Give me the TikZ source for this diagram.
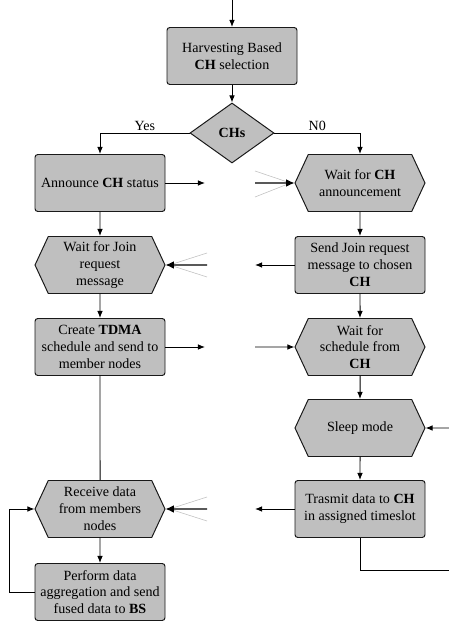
\documentclass[tikz,border=0pt]{standalone}
\usepackage{fontspec}
\setmainfont{Liberation Serif}
\usetikzlibrary{shapes.geometric,shapes.symbols,arrows.meta}

\begin{document}
\begin{tikzpicture}[box/.style={fill=black!25,draw=black!90,rounded corners=2pt,line width=.7pt,minimum width=3.25cm,minimum height=1.425cm,align=center,inner sep=1pt},
    hexa/.style={fill=black!25,draw=black!90,line width=.7pt,signal,signal to=west and east,signal pointer angle=130,minimum width=3.25cm,minimum height=1.425cm,align=center,inner sep=1pt},
    decision/.style={fill=black!25,draw=black!90,line width=.7pt,diamond,minimum width=2.1cm,minimum height=1.5cm,inner sep=0pt},
    flow/.style={draw=black,line width=.7pt,-{Latex[length=5pt,width=4pt]}},
    recv/.style={draw=black,line width=.8pt,-{Latex[length=6pt,width=5.5pt]}},
    fan/.style={draw=black!25,line width=.4pt}]
        \useasboundingbox (0,0) rectangle (11.225,15.55);

        \coordinate (start) at (5.8,15.55);
        \node[box] at (5.8,14.15) (harvest) {Harvesting Based\\\textbf{CH} selection};
        \node[decision] at (5.8,12.225) (chs) {\textbf{CHs}};

        \node[box] at (2.5,10.975) (announce) {Announce \textbf{CH} status};
        \node[hexa] at (9,10.975) (waitch) {Wait for \textbf{CH}\\announcement};

        \node[hexa] at (2.5,8.925) (waitjoin) {Wait for Join\\request\\message};
        \node[box] at (9,8.925) (sendjoin) {Send Join request\\message to chosen\\\textbf{CH}};

        \node[box] at (2.5,6.875) (create) {Create \textbf{TDMA}\\schedule and send to\\member nodes};
        \node[hexa] at (9,6.875) (waitsched) {Wait for\\schedule from\\\textbf{CH}};

        \node[hexa] at (9,4.85) (sleep) {Sleep mode};

        \node[hexa] at (2.5,2.825) (receive) {Receive data\\from members\\nodes};
        \node[box] at (9,2.825) (transmit) {Trasmit data to \textbf{CH}\\in assigned timeslot};

        \node[box] at (2.5,0.75) (perform) {Perform data\\aggregation and send\\fused data to \textbf{BS}};

        % gaps between the two columns
        \coordinate (a1) at (5.125,10.975);
        \coordinate (a2) at (6.375,10.975);
        \coordinate (b1) at (5.175,8.925);
        \coordinate (b2) at (6.375,8.925);
        \coordinate (c1) at (5.125,6.875);
        \coordinate (c2) at (6.375,6.875);
        \coordinate (d1) at (5.175,2.825);
        \coordinate (d2) at (6.375,2.825);
        \coordinate (sleepin) at (11.225,4.85);
        \coordinate (transout) at (11.225,1.3);
        \coordinate (loop) at (0.225,0.75);

        \draw[flow] (start) -- (harvest);
        \draw[flow] (harvest) -- (chs);
        \draw[flow] (chs.west) -| node[pos=.25,above,inner sep=1pt] (yes) {Yes} (announce);
        \draw[flow] (chs.east) -| node[pos=.25,above,inner sep=1pt] (no) {N0} (waitch);

        \draw[flow] (announce) -- (a1);
        \draw[fan] ([yshift=.3cm]a2) -- ([xshift=-1mm]waitch.west);
        \draw[fan] ([yshift=-.35cm]a2) -- ([xshift=-1mm]waitch.west);
        \draw[recv] (a2) -- (waitch);

        \draw[flow] (announce) -- (waitjoin);
        \draw[flow] (waitch) -- (sendjoin);

        \draw[flow] (sendjoin) -- (b2);
        \draw[fan] ([yshift=.3cm]b1) -- ([xshift=1mm]waitjoin.east);
        \draw[fan] ([yshift=-.3cm]b1) -- ([xshift=1mm]waitjoin.east);
        \draw[recv] (b1) -- (waitjoin);

        \draw[flow] (waitjoin) -- (create);
        \draw[flow] (sendjoin) -- (waitsched);

        \draw[flow] (create) -- (c1);
        \draw[flow] (c2) -- (waitsched);

        \draw[flow] (waitsched) -- (sleep);
        \draw[flow] (sleepin) -- (sleep);
        \draw[flow] (sleep) -- (transmit);
        \draw[draw=black,line width=.7pt] (transmit) |- (transout);

        \draw[draw=black,line width=.7pt] (create) -- (receive);
        \draw[flow] (transmit) -- (d2);
        \draw[fan] ([yshift=.3cm]d1) -- ([xshift=1mm]receive.east);
        \draw[fan] ([yshift=-.3cm]d1) -- ([xshift=1mm]receive.east);
        \draw[recv] (d1) -- (receive);

        \draw[flow] (receive) -- (perform);
        \draw[flow] (perform.west) -- (loop) |- (receive.west);
    \end{tikzpicture}
\end{document}
